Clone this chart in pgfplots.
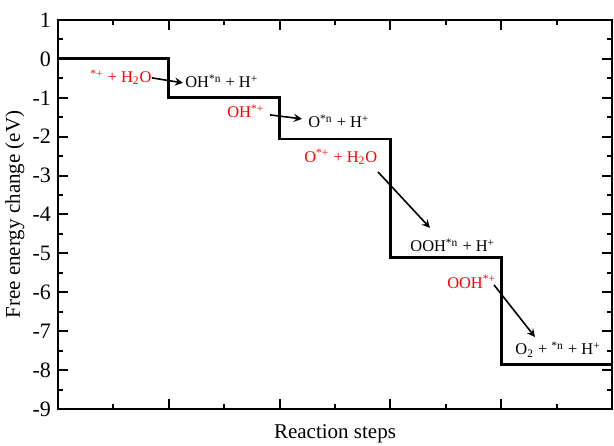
\documentclass[border=0pt]{standalone}
\usepackage{fontspec}
\setmainfont{Liberation Serif}
\usepackage{pgfplots}
\pgfplotsset{compat=1.18}
\usetikzlibrary{calc}
\newcommand{\Sp}[1]{\textsuperscript{#1}}
\newcommand{\Sb}[1]{\textsubscript{#1}}
\begin{document}
\begin{tikzpicture}
\begin{axis}[
  scale only axis,
  width=277pt, height=194.5pt,
  xmin=0, xmax=5, ymin=-9, ymax=1,
  xtick={0,1,2,3,4,5}, xticklabels={},
  minor x tick num=1,
  ytick={-9,-8,-7,-6,-5,-4,-3,-2,-1,0,1},
  minor y tick num=1,
  tick align=inside,
  major tick length=5pt, minor tick length=2.5pt,
  every tick/.style={black, line width=1pt},
  axis line style={line width=1.4pt},
  /pgf/number format/assume math mode=true,
  ticklabel style={font=\fontsize{11}{12}\selectfont},
  xlabel={Reaction steps},
  ylabel={Free energy change (eV)},
  label style={font=\fontsize{10.5}{12}\selectfont},
  xlabel style={at={(axis description cs:0.5,-0.064)}, anchor=center},
  ylabel style={at={(axis description cs:-0.078,0.5)}, anchor=center, rotate=0},
  clip=false,
]
\addplot[const plot, black, line width=1.4pt] coordinates {
  (0,0) (1,-0.99) (2,-2.06) (3,-5.10) (4,-7.85) (5,-7.85)
};
\begin{scope}[every node/.style={font=\fontsize{8.2}{9}\selectfont, inner sep=0pt, anchor=base west}]
\node[red] at (axis cs:0.289,-0.617) {\Sp{*+} + H\Sb{2}O};
\node at (axis cs:1.146,-0.746) {OH\Sp{*n} + H\Sp{+}};
\node[red] at (axis cs:1.525,-1.517) {OH\Sp{*+}};
\node at (axis cs:2.256,-1.774) {O\Sp{*n} + H\Sp{+}};
\node[red] at (axis cs:2.22,-2.666) {O\Sp{*+} + H\Sb{2}O};
\node at (axis cs:3.177,-4.96) {OOH\Sp{*n} + H\Sp{+}};
\node[red] at (axis cs:3.51,-5.89) {OOH\Sp{*+}};
\node at (axis cs:4.125,-7.61) {O\Sb{2} + \Sp{*n} + H\Sp{+}};
\end{scope}
\begin{scope}[-stealth, line width=0.8pt, black]
\draw (axis cs:0.848,-0.488) -- (axis cs:1.128,-0.617);
\draw (axis cs:1.913,-1.44) -- (axis cs:2.202,-1.542);
\draw (axis cs:2.888,-2.905) -- (axis cs:3.357,-4.344);
\draw (axis cs:3.935,-5.81) -- (axis cs:4.305,-7.15);
\end{scope}
\end{axis}
\pgfresetboundingbox
\path[use as bounding box] ($(current axis.south west)+(-29pt,-18pt)$) rectangle ($(current axis.north east)+(1pt,10pt)$);
\end{tikzpicture}
\end{document}
